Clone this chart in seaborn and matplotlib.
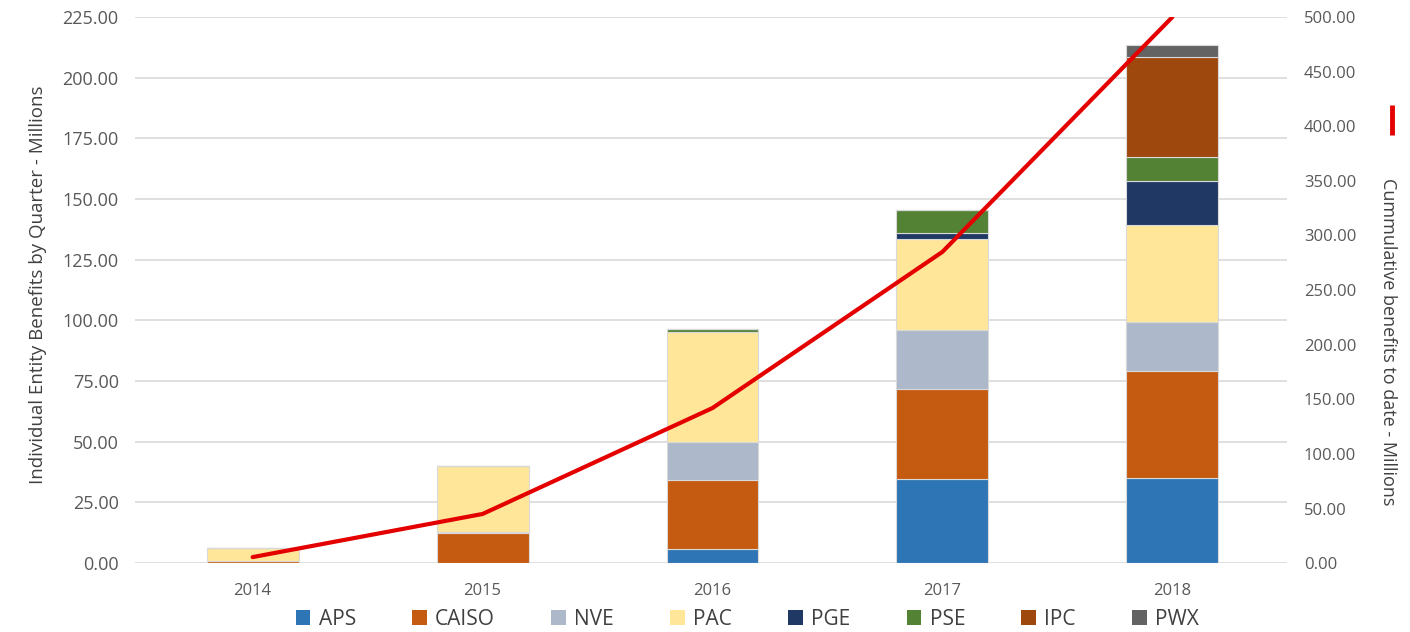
import numpy as np
import pandas as pd
import matplotlib
matplotlib.use("Agg")
import matplotlib.pyplot as plt
from matplotlib.patches import Patch
from matplotlib.lines import Line2D
import seaborn as sns

years = ["2014", "2015", "2016", "2017", "2018"]

# stacked components, millions
aps   = [0.0, 0.0, 6.0, 34.6, 35.0]
caiso = [1.0, 12.5, 28.2, 37.1, 44.1]
nve   = [0.0, 0.5, 15.8, 24.3, 20.2]
pac   = [5.2, 27.0, 45.2, 37.4, 40.0]
pge   = [0.0, 0.0, 0.0, 2.6, 18.2]
pse   = [0.0, 0.0, 1.3, 9.7, 9.7]
ipc   = [0.0, 0.0, 0.0, 0.0, 41.2]
pwx   = [0.0, 0.0, 0.0, 0.0, 5.0]

cumulative = [5.5, 45.0, 142.0, 285.0, 500.0]

entities = ["APS", "CAISO", "NVE", "PAC", "PGE", "PSE", "IPC", "PWX"]
colors = ["#2E75B6", "#C55A11", "#ADB9CA", "#FFE699",
          "#1F3864", "#548235", "#9E480E", "#636363"]

df = pd.DataFrame({"year": years, "APS": aps, "CAISO": caiso, "NVE": nve,
                   "PAC": pac, "PGE": pge, "PSE": pse, "IPC": ipc, "PWX": pwx})

sns.set_theme(style="white")
plt.rcParams['font.family'] = ['Open Sans', 'DejaVu Sans']

fig = plt.figure(figsize=(14.1, 6.32), dpi=100)
ax = fig.add_axes([0.096, 0.109, 0.817, 0.864])

bottom = np.zeros(len(years))
for name, col in zip(entities, colors):
    sns.barplot(data=df, x="year", y=name, color=col, bottom=bottom,
                width=0.4, errorbar=None, saturation=1, ax=ax,
                edgecolor="#d9d9d9", linewidth=0.8, zorder=2)
    bottom = bottom + df[name].values

ax.set_ylim(0, 225)
ax.set_yticks(np.arange(0, 226, 25))
ax.set_yticklabels([f"{v:.2f}" for v in np.arange(0, 226, 25)])
ax.set_xlim(-0.51, 4.5)
ax.grid(axis="y", color="#d9d9d9", linewidth=1.2, zorder=0)
ax.set_axisbelow(True)
for s in ax.spines.values():
    s.set_visible(False)
ax.set_xlabel("")
ax.set_ylabel("Individual Entity Benefits by Quarter - Millions",
              fontsize=13.5, color="#404040")
ax.yaxis.set_label_coords(-0.077, 0.51)
ax.tick_params(axis="y", labelsize=13, colors="#595959", length=0, pad=12)
ax.tick_params(axis="x", labelsize=12, colors="#595959", length=0, pad=14)

ax2 = ax.twinx()
sns.lineplot(x=np.arange(len(years)), y=cumulative, ax=ax2,
             color="#E50000", linewidth=3.0, zorder=5)
ax2.set_ylim(0, 500)
ax2.set_yticks(np.arange(0, 501, 50))
ax2.set_yticklabels([f"{v:.2f}" for v in np.arange(0, 501, 50)])
ax2.tick_params(axis="y", labelsize=12, colors="#595959", length=0, pad=12)
for s in ax2.spines.values():
    s.set_visible(False)
ax2.set_ylabel("Cummulative benefits to date - Millions", rotation=270,
               fontsize=13, color="#404040")
ax2.yaxis.set_label_coords(1.095, 0.405)

# red legend mark beside the right-hand label
fig.add_artist(Line2D([0.9875, 0.9875], [0.786, 0.834], color="#E50000",
                      linewidth=3.5, solid_capstyle="butt",
                      transform=fig.transFigure))

handles = [Patch(facecolor=c, edgecolor="none", label=n)
           for n, c in zip(entities, colors)]
fig.legend(handles=handles, loc="lower center", ncol=8, frameon=False,
           bbox_to_anchor=(0.53, -0.026), fontsize=15, handlelength=0.7,
           handleheight=0.7, columnspacing=2.7, handletextpad=0.4,
           labelcolor="#404040")

fig.savefig("out.png", dpi=100)
